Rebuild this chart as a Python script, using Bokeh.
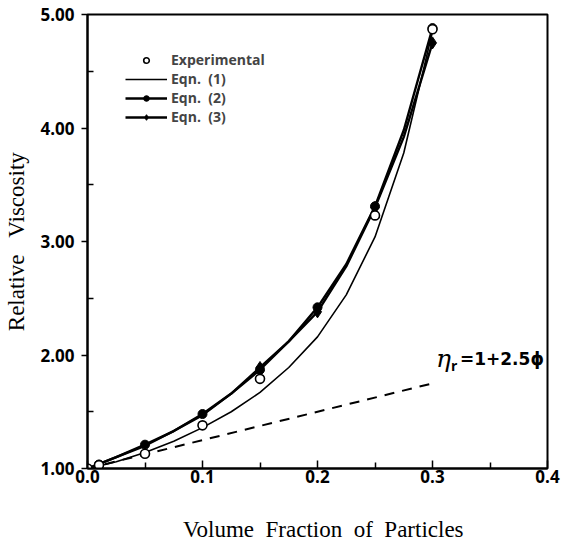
from bokeh.plotting import figure
from bokeh.models import (FixedTicker, PrintfTickFormatter, Legend, LegendItem,
                          Label, Range1d)
from bokeh.embed import file_html
from bokeh.resources import INLINE

# ---- data ----
phi_curve = [0.0, 0.025, 0.05, 0.075, 0.1, 0.125, 0.15, 0.175, 0.2, 0.225, 0.25, 0.275, 0.3]
eqn1_curve = [1.0, 1.06, 1.14, 1.24, 1.36, 1.50, 1.67, 1.89, 2.16, 2.53, 3.04, 3.78, 4.85]
eqn2_curve = [1.0, 1.10, 1.21, 1.33, 1.48, 1.66, 1.87, 2.12, 2.42, 2.80, 3.31, 3.98, 4.88]
eqn3_curve = [1.0, 1.10, 1.20, 1.33, 1.47, 1.66, 1.89, 2.12, 2.38, 2.78, 3.30, 3.92, 4.75]

eqn2_phi = [0.0, 0.01, 0.05, 0.1, 0.15, 0.2, 0.25, 0.3]
eqn2_pts = [1.0, 1.035, 1.21, 1.48, 1.87, 2.42, 3.31, 4.88]

eqn3_phi = [0.15, 0.2, 0.25, 0.3]
eqn3_pts = [1.89, 2.38, 3.30, 4.75]

exp_phi = [0.0, 0.01, 0.05, 0.1, 0.15, 0.25, 0.3]
exp_pts = [1.0, 1.03, 1.13, 1.38, 1.79, 3.23, 4.87]

einstein_phi = [0.0, 0.3]
einstein_val = [1.0, 1.75]

x_ticks = [0.0, 0.1, 0.2, 0.3, 0.4]
x_minor = [0.05, 0.15, 0.25, 0.35]
y_ticks = [1.0, 2.0, 3.0, 4.0, 5.0]
y_minor = [1.5, 2.5, 3.5, 4.5]

legend_labels = ["Experimental", "Eqn.  (1)", "Eqn.  (2)", "Eqn.  (3)"]

p = figure(width=573, height=547, output_backend="svg", toolbar_location=None,
           x_range=Range1d(0, 0.4), y_range=Range1d(1, 5),
           min_border_left=87, min_border_right=26, min_border_top=14,
           min_border_bottom=79)
p.grid.visible = False
p.outline_line_color = "black"
p.outline_line_width = 2
p.background_fill_color = "white"

# axes
p.xaxis.ticker = FixedTicker(ticks=x_ticks, minor_ticks=x_minor)
p.yaxis.ticker = FixedTicker(ticks=y_ticks, minor_ticks=y_minor)
p.xaxis.formatter = PrintfTickFormatter(format="%.1f")
p.yaxis.formatter = PrintfTickFormatter(format="%.2f")
for ax in (p.xaxis, p.yaxis):
    ax.axis_line_width = 2
    ax.axis_line_color = "black"
    ax.major_tick_line_width = 1.5
    ax.minor_tick_line_width = 1.5
    ax.major_label_text_font = "Open Sans"
    ax.major_label_text_font_style = "bold"
    ax.major_label_text_font_size = "17px"
    ax.major_label_text_color = "black"
    ax.axis_label_text_font = "Liberation Serif"
    ax.axis_label_text_font_style = "normal"
    ax.axis_label_text_font_size = "23px"
    ax.axis_label_text_color = "black"
p.xaxis.major_tick_in = 8
p.xaxis.major_tick_out = 0
p.xaxis.minor_tick_in = 6
p.xaxis.minor_tick_out = 0
p.yaxis.major_tick_in = 0
p.yaxis.major_tick_out = 6
p.yaxis.minor_tick_in = 6
p.yaxis.minor_tick_out = 0
p.xaxis.major_label_standoff = 1
p.yaxis.major_label_standoff = 7
p.xaxis.axis_label = "\u00a0\u00a0Volume\u00a0 Fraction\u00a0 of\u00a0 Particles"
p.yaxis.axis_label = "Relative\u00a0\u00a0 Viscosity"
p.xaxis.axis_label_standoff = 31
p.yaxis.axis_label_standoff = 8

# curves
r_einstein = p.line(einstein_phi, einstein_val, line_color="black", line_width=2,
                    line_dash="10 8")
r1 = p.line(phi_curve, eqn1_curve, line_color="black", line_width=1.6)
r2l = p.line(phi_curve, eqn2_curve, line_color="black", line_width=2.4)
r3l = p.line(phi_curve, eqn3_curve, line_color="black", line_width=2.4)
r2m = p.scatter(eqn2_phi, eqn2_pts, marker="circle", size=9, fill_color="black",
                line_color="black")
r3m = p.scatter(eqn3_phi, eqn3_pts, marker="diamond", size=12, fill_color="black",
                line_color="black")
rexp = p.scatter(exp_phi, exp_pts, marker="circle", size=9, fill_color="white",
                 line_color="black", line_width=1.6)

row_renderers = [[rexp], [r1], [r2l, r2m], [r3l, r3m]]
legend = Legend(items=[LegendItem(label=lab, renderers=rends)
                       for lab, rends in zip(legend_labels, row_renderers)],
                location=(38, 342), orientation="vertical")
legend.border_line_color = None
legend.background_fill_alpha = 0
legend.padding = 0
legend.margin = 0
legend.spacing = 0
legend.glyph_width = 42
legend.glyph_height = 14
legend.label_height = 14
legend.label_standoff = 4
legend.label_text_font = "Open Sans"
legend.label_text_font_style = "bold"
legend.label_text_font_size = "14px"
p.add_layout(legend)

# annotation eta_r = 1 + 2.5 phi
p.add_layout(Label(x=0.303, y=1.965, text="η", text_font="DejaVu Serif",
                   text_font_style="italic", text_font_size="25px",
                   text_baseline="middle", text_color="black"))
p.add_layout(Label(x=0.303, y=1.965, x_offset=15, y_offset=-7, text="r",
                   text_font="Open Sans", text_font_style="bold",
                   text_font_size="14px", text_baseline="middle", text_color="black"))
p.add_layout(Label(x=0.303, y=1.965, x_offset=24, text="=1+2.5ϕ",
                   text_font="DejaVu Sans", text_font_style="bold",
                   text_font_size="17px", text_baseline="middle", text_color="black"))

open("out.html", "w").write(file_html(p, INLINE))
